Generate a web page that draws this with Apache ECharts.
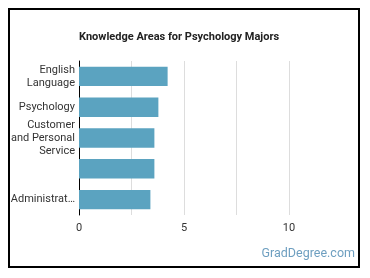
<!DOCTYPE html>
<html>
<head>
<meta charset="utf-8">
<script src="https://cdn.jsdelivr.net/npm/echarts@6/dist/echarts.min.js"></script>
<style>
html, body { margin: 0; padding: 0; background: #fff; }
#chart { width: 370px; height: 278px; }
</style>
</head>
<body>
<div id="chart"></div>
<script>
var categories = ['English\nLanguage', 'Psychology', 'Customer\nand Personal\nService', '', 'Administrat\u2026'];
var values = [4.22, 3.78, 3.59, 3.59, 3.4];
var tickStep = 2.5;

var chart = echarts.init(document.getElementById('chart'));

var option = {
	animation: false,
	title: {
		text: 'Knowledge Areas for Psychology Majors',
		left: 79,
		top: 32,
		padding: 0,
		textStyle: { fontFamily: 'Roboto', fontSize: 11, fontWeight: 'bold', color: '#222' }
	},
	graphic: [{
		type: 'rect',
		shape: { x: 9, y: 9, width: 350, height: 258 },
		style: { fill: 'none', stroke: '#000', lineWidth: 2 }
	}, {
		type: 'text',
		right: 15,
		top: 247,
		style: { text: 'GradDegree.com', font: '12.5px Roboto', fill: '#6e9fc0' }
	}],
	grid: { left: 79, right: 28.5, top: 61, bottom: 63 },
	xAxis: {
		type: 'value',
		min: 0,
		max: 12.5,
		interval: tickStep,
		axisLine: { show: false },
		axisTick: { show: false },
		axisLabel: {
			fontFamily: 'Roboto', fontSize: 11, color: '#333', margin: 8,
			formatter: function (v) { return v % 5 === 0 ? String(v) : ''; }
		},
		splitLine: {
			lineStyle: { color: ['#ddd', '#ddd', '#ddd', '#ddd', '#ddd', 'transparent'], width: 1 }
		}
	},
	yAxis: {
		type: 'category',
		inverse: true,
		data: categories,
		axisLine: { lineStyle: { color: '#000', width: 1 } },
		axisTick: { show: false },
		axisLabel: { fontFamily: 'Roboto', fontSize: 11, color: '#333', margin: 4, lineHeight: 13 }
	},
	series: [{
		type: 'bar',
		data: values,
		barWidth: '63%',
		itemStyle: { color: '#5ba3c0' }
	}]
};
chart.setOption(option);
</script>
</body>
</html>
